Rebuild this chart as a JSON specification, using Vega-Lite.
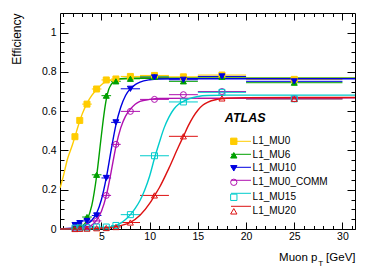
{
  "$schema": "https://vega.github.io/schema/vega-lite/v6.json",
  "autosize": "none",
  "width": 295,
  "height": 216,
  "padding": {"left": 60, "top": 13, "right": 19, "bottom": 44},
  "config": {
    "view": {"stroke": "black", "strokeWidth": 1},
    "font": "Liberation Sans",
    "axis": {"domain": false, "grid": false, "tickColor": "black", "tickWidth": 1, "labelColor": "black", "labelFont": "Liberation Sans", "labelFontSize": 10.5, "titleFont": "Liberation Sans", "titleFontSize": 11.5, "titleFontWeight": "normal", "titleColor": "black", "labelOverlap": false, "labelFlush": false}
  },
  "datasets": {
    "pts": [
      {"t": "L1_MU0", "x": 2.25, "lo": 2.0, "hi": 2.5, "e": 0.47},
      {"t": "L1_MU0", "x": 2.75, "lo": 2.5, "hi": 3.0, "e": 0.553},
      {"t": "L1_MU0", "x": 3.5, "lo": 3.0, "hi": 4.0, "e": 0.636},
      {"t": "L1_MU0", "x": 4.5, "lo": 4.0, "hi": 5.0, "e": 0.713},
      {"t": "L1_MU0", "x": 5.5, "lo": 5.0, "hi": 6.0, "e": 0.759},
      {"t": "L1_MU0", "x": 6.5, "lo": 6.0, "hi": 7.0, "e": 0.764},
      {"t": "L1_MU0", "x": 8.0, "lo": 7.0, "hi": 9.0, "e": 0.777},
      {"t": "L1_MU0", "x": 10.5, "lo": 9.0, "hi": 12.0, "e": 0.782},
      {"t": "L1_MU0", "x": 13.5, "lo": 12.0, "hi": 15.0, "e": 0.775},
      {"t": "L1_MU0", "x": 17.5, "lo": 15.0, "hi": 20.0, "e": 0.784},
      {"t": "L1_MU0", "x": 25.0, "lo": 20.0, "hi": 30.0, "e": 0.762},
      {"t": "L1_MU6", "x": 2.25, "lo": 2.0, "hi": 2.5, "e": 0.015},
      {"t": "L1_MU6", "x": 2.75, "lo": 2.5, "hi": 3.0, "e": 0.025},
      {"t": "L1_MU6", "x": 3.5, "lo": 3.0, "hi": 4.0, "e": 0.061},
      {"t": "L1_MU6", "x": 4.5, "lo": 4.0, "hi": 5.0, "e": 0.276},
      {"t": "L1_MU6", "x": 5.5, "lo": 5.0, "hi": 6.0, "e": 0.679},
      {"t": "L1_MU6", "x": 6.5, "lo": 6.0, "hi": 7.0, "e": 0.752},
      {"t": "L1_MU6", "x": 8.0, "lo": 7.0, "hi": 9.0, "e": 0.765},
      {"t": "L1_MU6", "x": 10.5, "lo": 9.0, "hi": 12.0, "e": 0.775},
      {"t": "L1_MU6", "x": 13.5, "lo": 12.0, "hi": 15.0, "e": 0.752},
      {"t": "L1_MU6", "x": 17.5, "lo": 15.0, "hi": 20.0, "e": 0.775},
      {"t": "L1_MU6", "x": 25.0, "lo": 20.0, "hi": 30.0, "e": 0.745},
      {"t": "L1_MU10", "x": 2.25, "lo": 2.0, "hi": 2.5, "e": 0.02},
      {"t": "L1_MU10", "x": 2.75, "lo": 2.5, "hi": 3.0, "e": 0.03},
      {"t": "L1_MU10", "x": 3.5, "lo": 3.0, "hi": 4.0, "e": 0.041},
      {"t": "L1_MU10", "x": 4.5, "lo": 4.0, "hi": 5.0, "e": 0.069},
      {"t": "L1_MU10", "x": 5.5, "lo": 5.0, "hi": 6.0, "e": 0.26},
      {"t": "L1_MU10", "x": 6.5, "lo": 6.0, "hi": 7.0, "e": 0.543},
      {"t": "L1_MU10", "x": 8.0, "lo": 7.0, "hi": 9.0, "e": 0.714},
      {"t": "L1_MU10", "x": 10.5, "lo": 9.0, "hi": 12.0, "e": 0.772},
      {"t": "L1_MU10", "x": 13.5, "lo": 12.0, "hi": 15.0, "e": 0.76},
      {"t": "L1_MU10", "x": 17.5, "lo": 15.0, "hi": 20.0, "e": 0.777},
      {"t": "L1_MU10", "x": 25.0, "lo": 20.0, "hi": 30.0, "e": 0.752},
      {"t": "L1_MU0_COMM", "x": 2.25, "lo": 2.0, "hi": 2.5, "e": 0.005},
      {"t": "L1_MU0_COMM", "x": 2.75, "lo": 2.5, "hi": 3.0, "e": 0.008},
      {"t": "L1_MU0_COMM", "x": 3.5, "lo": 3.0, "hi": 4.0, "e": 0.012},
      {"t": "L1_MU0_COMM", "x": 4.5, "lo": 4.0, "hi": 5.0, "e": 0.041},
      {"t": "L1_MU0_COMM", "x": 5.5, "lo": 5.0, "hi": 6.0, "e": 0.171},
      {"t": "L1_MU0_COMM", "x": 6.5, "lo": 6.0, "hi": 7.0, "e": 0.431},
      {"t": "L1_MU0_COMM", "x": 8.0, "lo": 7.0, "hi": 9.0, "e": 0.599},
      {"t": "L1_MU0_COMM", "x": 10.5, "lo": 9.0, "hi": 12.0, "e": 0.66},
      {"t": "L1_MU0_COMM", "x": 13.5, "lo": 12.0, "hi": 15.0, "e": 0.684},
      {"t": "L1_MU0_COMM", "x": 17.5, "lo": 15.0, "hi": 20.0, "e": 0.7},
      {"t": "L1_MU0_COMM", "x": 25.0, "lo": 20.0, "hi": 30.0, "e": 0.663},
      {"t": "L1_MU15", "x": 2.25, "lo": 2.0, "hi": 2.5, "e": 0.004},
      {"t": "L1_MU15", "x": 2.75, "lo": 2.5, "hi": 3.0, "e": 0.005},
      {"t": "L1_MU15", "x": 3.5, "lo": 3.0, "hi": 4.0, "e": 0.006},
      {"t": "L1_MU15", "x": 4.5, "lo": 4.0, "hi": 5.0, "e": 0.01},
      {"t": "L1_MU15", "x": 5.5, "lo": 5.0, "hi": 6.0, "e": 0.01},
      {"t": "L1_MU15", "x": 6.5, "lo": 6.0, "hi": 7.0, "e": 0.018},
      {"t": "L1_MU15", "x": 8.0, "lo": 7.0, "hi": 9.0, "e": 0.073},
      {"t": "L1_MU15", "x": 10.5, "lo": 9.0, "hi": 12.0, "e": 0.373},
      {"t": "L1_MU15", "x": 13.5, "lo": 12.0, "hi": 15.0, "e": 0.647},
      {"t": "L1_MU15", "x": 17.5, "lo": 15.0, "hi": 20.0, "e": 0.696},
      {"t": "L1_MU15", "x": 25.0, "lo": 20.0, "hi": 30.0, "e": 0.663},
      {"t": "L1_MU20", "x": 2.25, "lo": 2.0, "hi": 2.5, "e": 0.0},
      {"t": "L1_MU20", "x": 2.75, "lo": 2.5, "hi": 3.0, "e": 0.001},
      {"t": "L1_MU20", "x": 3.5, "lo": 3.0, "hi": 4.0, "e": 0.002},
      {"t": "L1_MU20", "x": 4.5, "lo": 4.0, "hi": 5.0, "e": 0.004},
      {"t": "L1_MU20", "x": 5.5, "lo": 5.0, "hi": 6.0, "e": 0.005},
      {"t": "L1_MU20", "x": 6.5, "lo": 6.0, "hi": 7.0, "e": 0.01},
      {"t": "L1_MU20", "x": 8.0, "lo": 7.0, "hi": 9.0, "e": 0.033},
      {"t": "L1_MU20", "x": 10.5, "lo": 9.0, "hi": 12.0, "e": 0.171},
      {"t": "L1_MU20", "x": 13.5, "lo": 12.0, "hi": 15.0, "e": 0.472},
      {"t": "L1_MU20", "x": 17.5, "lo": 15.0, "hi": 20.0, "e": 0.665},
      {"t": "L1_MU20", "x": 25.0, "lo": 20.0, "hi": 30.0, "e": 0.663}
    ],
    "fit": [
      {"t": "L1_MU0", "x": 0.72, "e": 0.21}, {"t": "L1_MU0", "x": 1.0, "e": 0.26}, {"t": "L1_MU0", "x": 1.5, "e": 0.36}, {"t": "L1_MU0", "x": 2.0, "e": 0.43}, {"t": "L1_MU0", "x": 2.25, "e": 0.47}, {"t": "L1_MU0", "x": 2.75, "e": 0.55}, {"t": "L1_MU0", "x": 3.0, "e": 0.585}, {"t": "L1_MU0", "x": 3.5, "e": 0.64}, {"t": "L1_MU0", "x": 4.0, "e": 0.68}, {"t": "L1_MU0", "x": 4.5, "e": 0.71}, {"t": "L1_MU0", "x": 5.0, "e": 0.735}, {"t": "L1_MU0", "x": 5.5, "e": 0.75}, {"t": "L1_MU0", "x": 6.0, "e": 0.758}, {"t": "L1_MU0", "x": 6.5, "e": 0.763}, {"t": "L1_MU0", "x": 7.5, "e": 0.767}, {"t": "L1_MU0", "x": 9.0, "e": 0.768}, {"t": "L1_MU0", "x": 31.3, "e": 0.768},
      {"t": "L1_MU6", "x": 0.72, "e": 0.0}, {"t": "L1_MU6", "x": 2.5, "e": 0.003}, {"t": "L1_MU6", "x": 3.0, "e": 0.012}, {"t": "L1_MU6", "x": 3.5, "e": 0.045}, {"t": "L1_MU6", "x": 4.0, "e": 0.12}, {"t": "L1_MU6", "x": 4.5, "e": 0.27}, {"t": "L1_MU6", "x": 5.0, "e": 0.48}, {"t": "L1_MU6", "x": 5.25, "e": 0.58}, {"t": "L1_MU6", "x": 5.5, "e": 0.66}, {"t": "L1_MU6", "x": 5.75, "e": 0.71}, {"t": "L1_MU6", "x": 6.0, "e": 0.735}, {"t": "L1_MU6", "x": 6.5, "e": 0.758}, {"t": "L1_MU6", "x": 7.0, "e": 0.765}, {"t": "L1_MU6", "x": 8.0, "e": 0.768}, {"t": "L1_MU6", "x": 31.3, "e": 0.768},
      {"t": "L1_MU10", "x": 0.72, "e": 0.0}, {"t": "L1_MU10", "x": 3.0, "e": 0.01}, {"t": "L1_MU10", "x": 3.5, "e": 0.025}, {"t": "L1_MU10", "x": 4.0, "e": 0.045}, {"t": "L1_MU10", "x": 4.5, "e": 0.08}, {"t": "L1_MU10", "x": 5.0, "e": 0.15}, {"t": "L1_MU10", "x": 5.5, "e": 0.26}, {"t": "L1_MU10", "x": 6.0, "e": 0.4}, {"t": "L1_MU10", "x": 6.5, "e": 0.53}, {"t": "L1_MU10", "x": 7.0, "e": 0.62}, {"t": "L1_MU10", "x": 7.5, "e": 0.68}, {"t": "L1_MU10", "x": 8.0, "e": 0.715}, {"t": "L1_MU10", "x": 8.5, "e": 0.735}, {"t": "L1_MU10", "x": 9.0, "e": 0.748}, {"t": "L1_MU10", "x": 10.0, "e": 0.76}, {"t": "L1_MU10", "x": 11.0, "e": 0.764}, {"t": "L1_MU10", "x": 13.0, "e": 0.765}, {"t": "L1_MU10", "x": 31.3, "e": 0.765},
      {"t": "L1_MU0_COMM", "x": 0.72, "e": 0.0}, {"t": "L1_MU0_COMM", "x": 3.0, "e": 0.005}, {"t": "L1_MU0_COMM", "x": 4.0, "e": 0.02}, {"t": "L1_MU0_COMM", "x": 4.5, "e": 0.045}, {"t": "L1_MU0_COMM", "x": 5.0, "e": 0.09}, {"t": "L1_MU0_COMM", "x": 5.5, "e": 0.17}, {"t": "L1_MU0_COMM", "x": 6.0, "e": 0.29}, {"t": "L1_MU0_COMM", "x": 6.5, "e": 0.42}, {"t": "L1_MU0_COMM", "x": 7.0, "e": 0.515}, {"t": "L1_MU0_COMM", "x": 7.5, "e": 0.575}, {"t": "L1_MU0_COMM", "x": 8.0, "e": 0.61}, {"t": "L1_MU0_COMM", "x": 8.5, "e": 0.635}, {"t": "L1_MU0_COMM", "x": 9.0, "e": 0.65}, {"t": "L1_MU0_COMM", "x": 10.0, "e": 0.66}, {"t": "L1_MU0_COMM", "x": 11.0, "e": 0.665}, {"t": "L1_MU0_COMM", "x": 31.3, "e": 0.668},
      {"t": "L1_MU15", "x": 0.72, "e": 0.0}, {"t": "L1_MU15", "x": 5.0, "e": 0.003}, {"t": "L1_MU15", "x": 6.0, "e": 0.01}, {"t": "L1_MU15", "x": 7.0, "e": 0.03}, {"t": "L1_MU15", "x": 7.5, "e": 0.048}, {"t": "L1_MU15", "x": 8.0, "e": 0.073}, {"t": "L1_MU15", "x": 8.5, "e": 0.105}, {"t": "L1_MU15", "x": 9.0, "e": 0.145}, {"t": "L1_MU15", "x": 9.5, "e": 0.2}, {"t": "L1_MU15", "x": 10.0, "e": 0.27}, {"t": "L1_MU15", "x": 10.5, "e": 0.36}, {"t": "L1_MU15", "x": 11.0, "e": 0.44}, {"t": "L1_MU15", "x": 11.5, "e": 0.515}, {"t": "L1_MU15", "x": 12.0, "e": 0.57}, {"t": "L1_MU15", "x": 12.5, "e": 0.61}, {"t": "L1_MU15", "x": 13.0, "e": 0.635}, {"t": "L1_MU15", "x": 13.5, "e": 0.65}, {"t": "L1_MU15", "x": 14.0, "e": 0.662}, {"t": "L1_MU15", "x": 15.0, "e": 0.675}, {"t": "L1_MU15", "x": 16.0, "e": 0.68}, {"t": "L1_MU15", "x": 18.0, "e": 0.682}, {"t": "L1_MU15", "x": 31.3, "e": 0.682},
      {"t": "L1_MU20", "x": 0.72, "e": 0.0}, {"t": "L1_MU20", "x": 4.0, "e": 0.002}, {"t": "L1_MU20", "x": 5.0, "e": 0.004}, {"t": "L1_MU20", "x": 6.0, "e": 0.008}, {"t": "L1_MU20", "x": 7.0, "e": 0.017}, {"t": "L1_MU20", "x": 8.0, "e": 0.034}, {"t": "L1_MU20", "x": 9.0, "e": 0.07}, {"t": "L1_MU20", "x": 10.0, "e": 0.13}, {"t": "L1_MU20", "x": 10.5, "e": 0.17}, {"t": "L1_MU20", "x": 11.0, "e": 0.21}, {"t": "L1_MU20", "x": 12.0, "e": 0.31}, {"t": "L1_MU20", "x": 13.0, "e": 0.42}, {"t": "L1_MU20", "x": 13.5, "e": 0.472}, {"t": "L1_MU20", "x": 14.0, "e": 0.525}, {"t": "L1_MU20", "x": 14.5, "e": 0.57}, {"t": "L1_MU20", "x": 15.0, "e": 0.605}, {"t": "L1_MU20", "x": 15.5, "e": 0.63}, {"t": "L1_MU20", "x": 16.0, "e": 0.645}, {"t": "L1_MU20", "x": 17.0, "e": 0.66}, {"t": "L1_MU20", "x": 18.0, "e": 0.666}, {"t": "L1_MU20", "x": 20.0, "e": 0.669}, {"t": "L1_MU20", "x": 31.3, "e": 0.67}
    ]
  },
  "layer": [
    {
      "data": {"name": "pts"},
      "mark": {"type": "rule", "strokeWidth": 1},
      "encoding": {
        "x": {"field": "lo", "type": "quantitative", "scale": {"domain": [0.7, 31.3], "nice": false, "zero": false},
          "axis": {"orient": "bottom", "values": [1,2,3,4,5,6,7,8,9,10,11,12,13,14,15,16,17,18,19,20,21,22,23,24,25,26,27,28,29,30,31],
            "labelExpr": "datum.value % 5 === 0 ? datum.label : ''", "format": "d",
            "tickSize": {"condition": {"test": "datum.value % 5 === 0", "value": -7}, "value": -3.5},
            "labelPadding": 9,
            "title": "Muon p\u00a0\u00a0\u2009[GeV]", "titleAnchor": "end", "titleAlign": "right", "titleX": 295, "titleY": 31.4, "titleBaseline": "alphabetic"}},
        "x2": {"field": "hi"},
        "y": {"field": "e", "type": "quantitative", "scale": {"domain": [0, 1.1], "nice": false, "zero": false},
          "axis": {"orient": "left", "values": [0,0.05,0.1,0.15,0.2,0.25,0.3,0.35,0.4,0.45,0.5,0.55,0.6,0.65,0.7,0.75,0.8,0.85,0.9,0.95,1,1.05],
            "labelExpr": "round(datum.value*100) % 20 === 0 ? format(datum.value, '~g') : ''",
            "tickSize": {"condition": {"test": "round(datum.value*100) % 20 === 0", "value": -8}, "value": -4},
            "labelPadding": 12,
            "title": "Efficiency", "titleAnchor": "end", "titleAlign": "right", "titleAngle": -90, "titleX": -39.5, "titleY": 0, "titleBaseline": "alphabetic", "titleFontSize": 12}},
        "color": {"field": "t", "type": "nominal",
          "scale": {"domain": ["L1_MU0", "L1_MU6", "L1_MU10", "L1_MU0_COMM", "L1_MU15", "L1_MU20", "none"], "range": ["#ffcc00", "#00a000", "#0000e0", "#b010b0", "#00cccc", "#dd1111", "#000000"]},
          "legend": {"orient": "none", "legendX": 176, "legendY": 123.3, "title": null, "values": ["L1_MU0", "L1_MU6", "L1_MU10", "L1_MU0_COMM", "L1_MU15", "L1_MU20"], "symbolType": "M-5,0H5", "symbolSize": 16, "symbolStrokeWidth": 1, "labelFontSize": 10, "labelExpr": "''", "rowPadding": 3.0, "padding": 0, "zindex": 0}}
      }
    },
    {
      "data": {"name": "fit"},
      "mark": {"type": "line", "strokeWidth": 1.4, "interpolate": "monotone"},
      "encoding": {
        "x": {"field": "x", "type": "quantitative",
          "axis": {"orient": "top", "values": [1,2,3,4,5,6,7,8,9,10,11,12,13,14,15,16,17,18,19,20,21,22,23,24,25,26,27,28,29,30,31], "labels": false, "title": null,
            "tickSize": {"condition": {"test": "datum.value % 5 === 0", "value": -7}, "value": -3.5}}},
        "y": {"field": "e", "type": "quantitative",
          "axis": {"orient": "right", "values": [0,0.05,0.1,0.15,0.2,0.25,0.3,0.35,0.4,0.45,0.5,0.55,0.6,0.65,0.7,0.75,0.8,0.85,0.9,0.95,1,1.05], "labels": false, "title": null,
            "tickSize": {"condition": {"test": "round(datum.value*100) % 20 === 0", "value": -8}, "value": -4}}},
        "color": {"field": "t", "type": "nominal"}
      }
    },
    {
      "data": {"name": "pts"},
      "mark": {"type": "point", "size": 36, "strokeWidth": 1, "opacity": 1},
      "encoding": {
        "x": {"field": "x", "type": "quantitative", "axis": null},
        "y": {"field": "e", "type": "quantitative", "axis": null},
        "shape": {"field": "t", "type": "nominal",
          "scale": {"domain": ["L1_MU0", "L1_MU6", "L1_MU10", "L1_MU0_COMM", "L1_MU15", "L1_MU20"], "range": ["square", "triangle-up", "triangle-down", "circle", "square", "triangle-up"]},
          "legend": {"orient": "none", "legendX": 168.8, "legendY": 123.3, "title": null, "symbolSize": 40, "symbolStrokeWidth": 1, "labelFontSize": 10, "labelFont": "Liberation Sans", "labelColor": "black", "labelOffset": 13.8, "rowPadding": 3.0, "padding": 0, "zindex": 1}},
        "stroke": {"field": "t", "type": "nominal",
          "scale": {"domain": ["L1_MU0", "L1_MU6", "L1_MU10", "L1_MU0_COMM", "L1_MU15", "L1_MU20"], "range": ["#ffcc00", "#00a000", "#0000e0", "#b010b0", "#00cccc", "#dd1111"]}},
        "fill": {"field": "t", "type": "nominal",
          "scale": {"domain": ["L1_MU0", "L1_MU6", "L1_MU10", "L1_MU0_COMM", "L1_MU15", "L1_MU20"], "range": ["#ffcc00", "#00a000", "#0000e0", "transparent", "transparent", "transparent"]}}
      }
    },
    {
      "data": {"values": [{"label": "ATLAS"}]},
      "mark": {"type": "text", "font": "Liberation Sans", "fontWeight": "bold", "fontStyle": "italic", "fontSize": 12.5, "align": "left", "baseline": "middle", "color": "black"},
      "encoding": {
        "x": {"datum": 17.8, "type": "quantitative", "axis": null},
        "y": {"datum": 0.567, "type": "quantitative", "axis": null},
        "text": {"field": "label"}
      }
    },
    {
      "data": {"values": [{"label": "T"}]},
      "mark": {"type": "text", "font": "Liberation Sans", "fontSize": 8, "align": "center", "baseline": "middle", "color": "black"},
      "encoding": {
        "x": {"datum": 27.74, "type": "quantitative", "axis": null},
        "y": {"datum": -0.178, "type": "quantitative", "axis": null},
        "text": {"field": "label"}
      }
    }
  ],
  "resolve": {"axis": {"x": "independent", "y": "independent"}}
}
